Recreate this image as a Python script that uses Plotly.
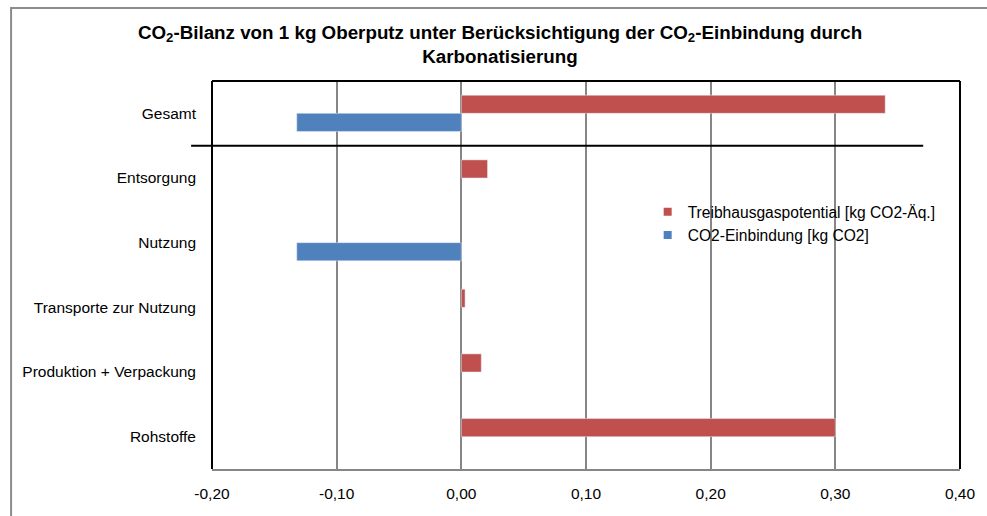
import plotly.graph_objects as go

categories = ["Rohstoffe", "Produktion + Verpackung", "Transporte zur Nutzung",
              "Nutzung", "Entsorgung", "Gesamt"]
treibhaus = [0.300, 0.016, 0.003, None, 0.021, 0.340]
einbindung = [None, None, None, -0.132, None, -0.132]
tick_vals = [-0.2, -0.1, 0.0, 0.1, 0.2, 0.3, 0.4]
tick_text = ["-0,20", "-0,10", "0,00", "0,10", "0,20", "0,30", "0,40"]
name_thg = "Treibhausgaspotential [kg CO2-Äq.]"
name_co2 = "CO2-Einbindung [kg CO2]"

FONT = "Liberation Sans, Arial, sans-serif"
RED = "#C0504D"
BLUE = "#4F81BD"
GRID = "#868686"

fig = go.Figure()
fig.add_trace(go.Bar(y=categories, x=einbindung, orientation="h",
                     name=name_co2, marker_color=BLUE, showlegend=False))
fig.add_trace(go.Bar(y=categories, x=treibhaus, orientation="h",
                     name=name_thg, marker_color=RED, showlegend=False))
# legend entries with small square keys
fig.add_trace(go.Scatter(x=[None], y=[None], mode="markers", name=name_thg,
                         marker=dict(symbol="square", size=8, color=RED)))
fig.add_trace(go.Scatter(x=[None], y=[None], mode="markers", name=name_co2,
                         marker=dict(symbol="square", size=8, color=BLUE)))

L, R, T, B = 212, 23, 81, 47
W, H = 987, 516
pw, ph = W - L - R, H - T - B

fig.update_layout(
    width=W, height=H,
    margin=dict(l=L, r=R, t=T, b=B, pad=0),
    paper_bgcolor="white", plot_bgcolor="white",
    barmode="group", bargap=0.44, bargroupgap=0,
    font=dict(family=FONT, size=15.5, color="black"),
    title=dict(
        text="<b>CO<sub>2</sub>-Bilanz von 1 kg Oberputz unter Berücksichtigung der CO<sub>2</sub>-Einbindung durch<br>Karbonatisierung</b>",
        x=500 / W, xanchor="center", xref="container",
        y=1 - 38.5 / H, yanchor="middle", yref="container",
        font=dict(family=FONT, size=18.8, color="black"),
    ),
    legend=dict(x=(650 - L) / pw, y=(H - B - 195) / ph, xanchor="left", yanchor="top",
                bgcolor="rgba(0,0,0,0)", font=dict(size=15.6),
                itemwidth=30, tracegroupgap=0, traceorder="normal"),
    showlegend=True,
    hovermode=False,
)
fig.update_xaxes(range=[-0.2, 0.4], tickvals=tick_vals, ticktext=tick_text,
                 showgrid=True, gridcolor=GRID, gridwidth=2,
                 zeroline=True, zerolinecolor=GRID, zerolinewidth=2,
                 showline=True, linecolor=GRID, linewidth=2,
                 ticks="", ticklabelstandoff=9, fixedrange=True)
fig.update_yaxes(categoryorder="array", categoryarray=categories,
                 showgrid=False, zeroline=False, showline=False, ticks="",
                 ticklabelstandoff=15, fixedrange=True)

sep = len(categories) - 1.5
shapes = [
    # outer frame
    dict(type="rect", xref="paper", yref="paper",
         x0=(10 - L) / pw, x1=1.3, y0=-0.3, y1=(H - B - 8) / ph,
         line=dict(color="#8C8C8C", width=2), layer="below"),
    # plot border (left, top, right)
    dict(type="line", xref="paper", yref="paper", x0=0, x1=0, y0=0, y1=1,
         line=dict(color="black", width=2)),
    dict(type="line", xref="paper", yref="paper", x0=0, x1=1, y0=1, y1=1,
         line=dict(color="black", width=2)),
    dict(type="line", xref="paper", yref="paper", x0=1, x1=1, y0=0, y1=1,
         line=dict(color="black", width=2)),
    # separator below Gesamt
    dict(type="line", xref="paper", yref="y", x0=(191 - L) / pw, x1=(927 - L) / pw,
         y0=sep, y1=sep, line=dict(color="black", width=2)),
]
fig.update_layout(shapes=shapes)

fig.write_html("out.html", config={"displayModeBar": False},
               post_script="document.body.style.margin='0';document.body.style.overflow='hidden';")
